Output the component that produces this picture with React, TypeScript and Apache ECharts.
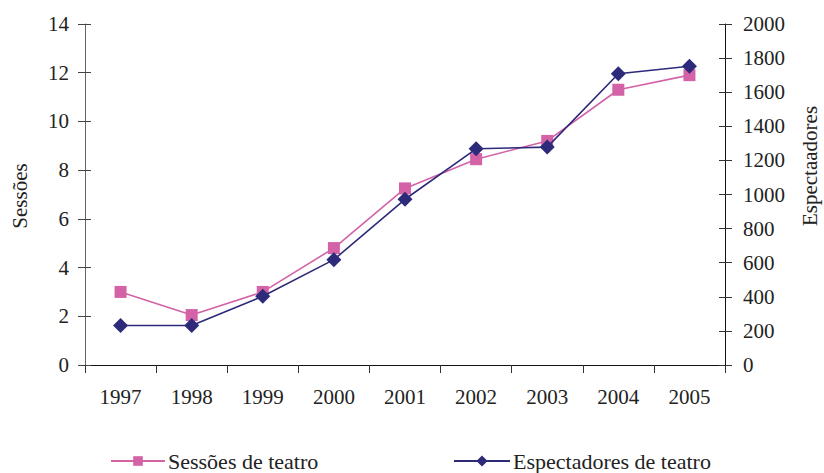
import React, { useEffect, useRef } from "react";
import * as echarts from "echarts";

const years = ["1997", "1998", "1999", "2000", "2001", "2002", "2003", "2004", "2005"];
const sessoes = [3.0, 2.05, 3.0, 4.8, 7.25, 8.45, 9.2, 11.3, 11.9];
const espectadores = [232, 232, 403, 618, 972, 1268, 1278, 1708, 1752];
const leftTicks = { min: 0, max: 14, interval: 2 };
const rightTicks = { min: 0, max: 2000, interval: 200 };

const PINK = "#D462A6";
const NAVY = "#2D2A7A";
const FONT = "Liberation Serif";

export default function App() {
  const ref = useRef<HTMLDivElement>(null);
  useEffect(() => {
    if (!ref.current) return;
    const chart = echarts.init(ref.current, undefined, { renderer: "svg" });
    const labelStyle = { color: "#222", fontFamily: FONT, fontSize: 21 };
    chart.setOption({
      animation: false,
      grid: { left: 85, right: 99, top: 24, bottom: 108 },
      xAxis: {
        type: "category",
        data: years,
        boundaryGap: true,
        axisLine: { lineStyle: { color: "#111", width: 1 } },
        axisTick: { show: true, length: 8, lineStyle: { color: "#333" } },
        axisLabel: { ...labelStyle, margin: 21 },
      },
      yAxis: [
        {
          type: "value",
          ...leftTicks,
          position: "left",
          axisLine: { show: true, lineStyle: { color: "#666", width: 1 } },
          axisTick: { show: true, length: 7, lineStyle: { color: "#444" } },
          axisLabel: { ...labelStyle, margin: 16 },
          splitLine: { show: false },
        },
        {
          type: "value",
          ...rightTicks,
          position: "right",
          axisLine: { show: true, lineStyle: { color: "#111", width: 1 } },
          axisTick: { show: true, length: 7, lineStyle: { color: "#333" } },
          axisLabel: { ...labelStyle, margin: 18, formatter: (v: number) => String(v) },
          splitLine: { show: false },
        },
        {
          type: "value",
          ...leftTicks,
          position: "left",
          axisLine: { show: false },
          axisTick: { show: true, inside: true, length: 6, lineStyle: { color: "#444" } },
          axisLabel: { show: false },
          splitLine: { show: false },
        },
        {
          type: "value",
          ...rightTicks,
          position: "right",
          axisLine: { show: false },
          axisTick: { show: true, inside: true, length: 6, lineStyle: { color: "#333" } },
          axisLabel: { show: false },
          splitLine: { show: false },
        },
      ],
      legend: [
        {
          data: ["Sessões de teatro"],
          left: 110,
          top: 450,
          itemWidth: 54,
          itemHeight: 12,
          padding: 0,
          textStyle: { ...labelStyle, fontSize: 22, lineHeight: 22, padding: [0, 0, 0, -2] },
        },
        {
          data: ["Espectadores de teatro"],
          left: 453,
          top: 450,
          itemWidth: 56,
          itemHeight: 14,
          padding: 0,
          textStyle: { ...labelStyle, fontSize: 22, lineHeight: 22, padding: [0, 0, 0, -2] },
        },
      ],
      graphic: [
        {
          type: "text",
          x: 20,
          y: 196,
          rotation: Math.PI / 2,
          style: {
            text: "Sessões",
            fontFamily: FONT,
            fontSize: 21,
            fill: "#222",
            align: "center",
            verticalAlign: "middle",
          },
        },
        {
          type: "text",
          x: 810,
          y: 166,
          rotation: Math.PI / 2,
          style: {
            text: "Espectaadores",
            fontFamily: FONT,
            fontSize: 21,
            fill: "#222",
            align: "center",
            verticalAlign: "middle",
          },
        },
      ],
      series: [
        {
          name: "Sessões de teatro",
          type: "line",
          yAxisIndex: 0,
          data: sessoes,
          symbol: "rect",
          symbolSize: 12,
          lineStyle: { color: PINK, width: 1.6 },
          itemStyle: { color: PINK },
          z: 2,
        },
        {
          name: "Espectadores de teatro",
          type: "line",
          yAxisIndex: 1,
          data: espectadores,
          symbol: "diamond",
          symbolSize: 15,
          lineStyle: { color: NAVY, width: 1.6 },
          itemStyle: { color: NAVY },
          z: 3,
        },
      ],
    });
    return () => chart.dispose();
  }, []);
  return <div ref={ref} style={{ width: 824, height: 473, position: "absolute", left: 0, top: 0 }} />;
}
